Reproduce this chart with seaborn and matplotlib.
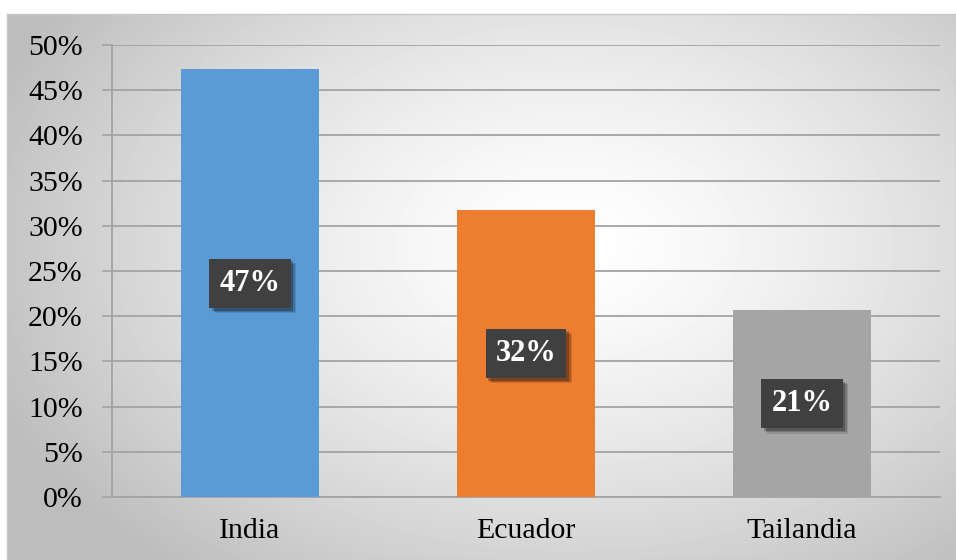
import numpy as np
import pandas as pd
import seaborn as sns
import matplotlib.pyplot as plt
import matplotlib.patheffects as pe

paises = ['India', 'Ecuador', 'Tailandia']
porcentajes = [47.3, 31.8, 20.7]
etiquetas = ['47%', '32%', '21%']
colores = ['#5B9BD5', '#ED7D31', '#A5A5A5']
yticks = list(range(0, 51, 5))

df = pd.DataFrame({'pais': paises, 'pct': porcentajes})


class Sombra(pe.AbstractPathEffect):
    """soft drop shadow for the label boxes, without the hatch"""

    def __init__(self, offset=(4, -4), alpha=0.2):
        super().__init__(offset)
        self.alpha = alpha

    def draw_path(self, renderer, gc, tpath, affine, rgbFace=None):
        gc0 = renderer.new_gc()
        gc0.copy_properties(gc)
        gc0.set_hatch(None)
        gc0.set_linewidth(0)
        gc0.set_alpha(self.alpha)
        renderer.draw_path(gc0, tpath, affine + self._offset_transform(renderer),
                           (0, 0, 0))
        gc0.restore()


sns.set_style('white')
plt.rcParams['font.family'] = ['Liberation Serif', 'DejaVu Serif']
plt.rcParams['text.color'] = 'black'
plt.rcParams['xtick.labelcolor'] = 'black'
plt.rcParams['ytick.labelcolor'] = 'black'
plt.rcParams['hatch.color'] = '#585858'
plt.rcParams['hatch.linewidth'] = 1.2

fig = plt.figure(figsize=(9.56, 5.6), dpi=100)
fig.patch.set_facecolor('white')

# radial gradient background of the chart area
bg = fig.add_axes([7 / 956, 0, 949 / 956, 546 / 560], zorder=0)
yy, xx = np.mgrid[0:546, 0:949]
r = np.sqrt(((xx - 560) / 620.0) ** 2 + ((yy - 230) / 420.0) ** 2)
shade = np.clip(1.0 - 0.26 * r ** 1.4, 0.74, 1.0)
bg.imshow(shade, cmap='gray', vmin=0, vmax=1, aspect='auto', interpolation='bilinear')
bg.set_xticks([])
bg.set_yticks([])
for s in bg.spines.values():
    s.set_color('#c8c8c8')
    s.set_linewidth(1)

ax = fig.add_axes([112 / 956, 1 - 497 / 560, 828 / 956, 452 / 560], zorder=1)
ax.patch.set_alpha(0)
sns.barplot(data=df, x='pais', y='pct', hue='pais', palette=colores,
            width=0.5, saturation=1, legend=False, linewidth=0, ax=ax, zorder=3)

ax.set_xlim(-0.5, 2.5)
ax.set_ylim(0, 50)
ax.set_yticks(yticks)
ax.set_yticklabels([f'{v}%' for v in yticks])
ax.yaxis.grid(True, color='#a3a3a3', linewidth=1.3, zorder=0)
ax.set_axisbelow(True)
ax.set_xlabel('')
ax.set_ylabel('')

ax.set_xticks([-0.5, 0.5, 1.5, 2.5], minor=True)
ax.tick_params(axis='x', which='major', length=0, pad=15, labelsize=21.5)
ax.tick_params(axis='x', which='minor', length=7, width=1.2, color='#a3a3a3', direction='out')
ax.tick_params(axis='y', length=7, width=1.2, color='#a3a3a3', pad=14, labelsize=21.5, left=True)

for k in ['top', 'right']:
    ax.spines[k].set_visible(False)
for k in ['left', 'bottom']:
    ax.spines[k].set_color('#a3a3a3')
    ax.spines[k].set_linewidth(1.3)

for i, (v, lab) in enumerate(zip(porcentajes, etiquetas)):
    t = ax.text(i, v / 2, lab, ha='center', va='center', color='white',
                fontsize=22, fontweight='bold', zorder=5,
                bbox=dict(boxstyle='square,pad=0.33', fc='#404040', ec='#404040',
                          lw=0, hatch='..'))
    t.get_bbox_patch().set_path_effects(
        [Sombra((4, -4), 0.12), Sombra((3, -3), 0.18), Sombra((2, -2), 0.25), pe.Normal()])

plt.savefig('out.png', dpi=100)
